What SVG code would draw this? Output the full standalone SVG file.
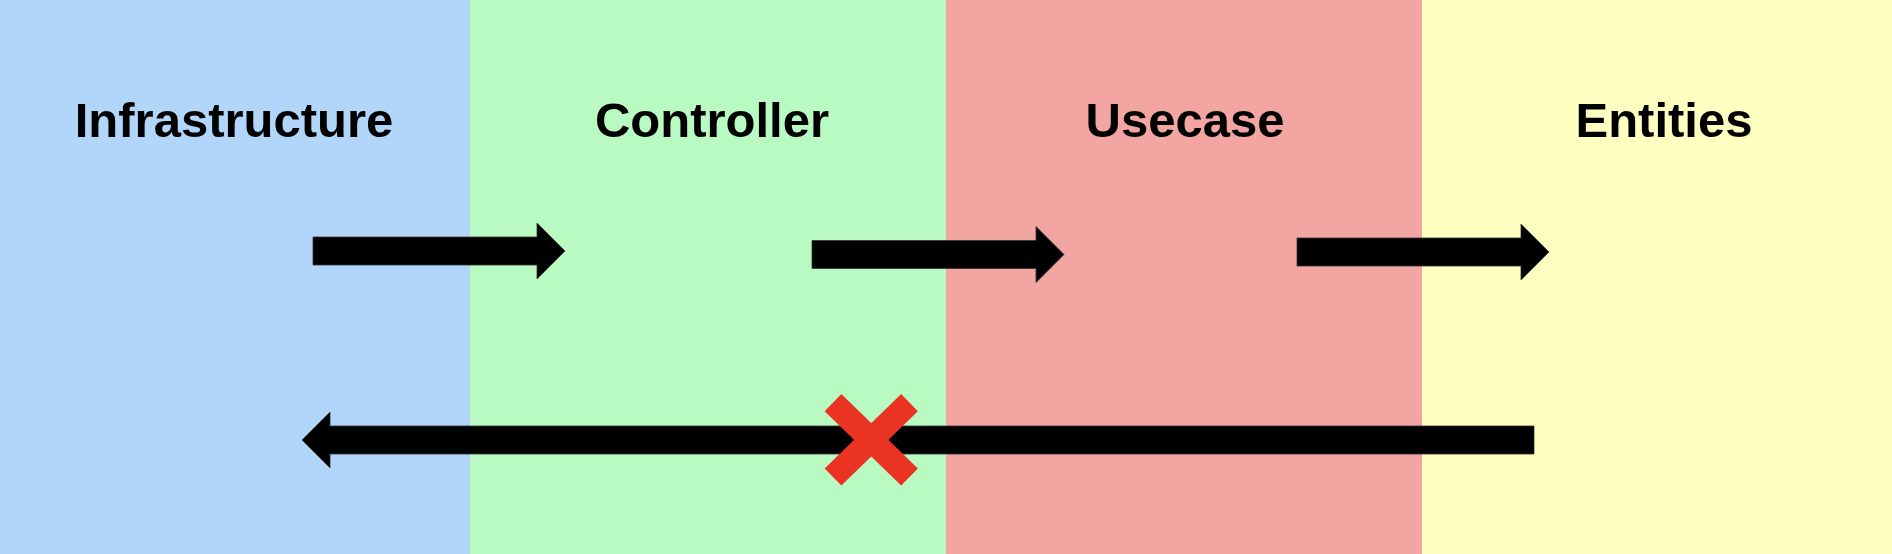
<svg xmlns="http://www.w3.org/2000/svg" width="1892" height="554" viewBox="0 0 1892 554">
<style>
.lbl{font-family:"Liberation Sans",Arial,sans-serif;font-weight:bold;font-size:49px;fill:#000;text-anchor:middle}
.arrow{fill:#000;stroke:#333;stroke-width:0.8}
.cross{stroke:#EA3323;stroke-width:24;stroke-linecap:butt}
</style>
<g id="infrastructure">
<rect x="0" y="0" width="470" height="554" fill="#B2D6FA"/>
<text class="lbl" x="234" y="137">Infrastructure</text>
</g>
<g id="controller">
<rect x="470" y="0" width="476" height="554" fill="#B8FAC1"/>
<text class="lbl" x="712" y="137">Controller</text>
</g>
<g id="usecase">
<rect x="946" y="0" width="476" height="554" fill="#F2A5A1"/>
<text class="lbl" x="1185" y="137">Usecase</text>
</g>
<g id="entities">
<rect x="1422" y="0" width="470" height="554" fill="#FFFEC1"/>
<text class="lbl" x="1664" y="137">Entities</text>
</g>
<g id="connectors">
<polygon class="arrow" points="313,237 537,237 537,223 565,251 537,279 537,265 313,265"/>
<polygon class="arrow" points="812,240.5 1036,240.5 1036,226.5 1064,254.5 1036,282.5 1036,268.5 812,268.5"/>
<polygon class="arrow" points="1297,238 1521,238 1521,224 1549,252 1521,280 1521,266 1297,266"/>
<polygon class="arrow" points="1534,426 330,426 330,412 302,440 330,468 330,454 1534,454"/>
<g id="cross">
<line class="cross" x1="833" y1="402.7" x2="909.5" y2="477"/>
<line class="cross" x1="909.5" y1="402.7" x2="833" y2="477"/>
</g>
</g>
</svg>
